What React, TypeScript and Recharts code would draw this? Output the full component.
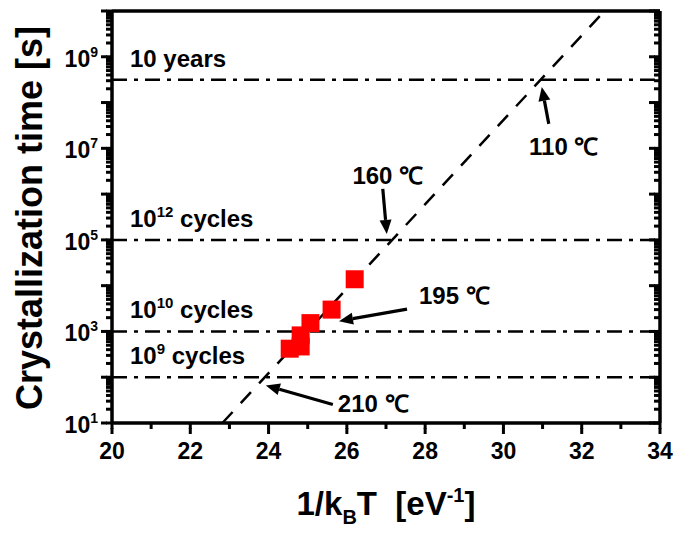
import React from "react";
import {
  ComposedChart,
  Scatter,
  XAxis,
  YAxis,
  ReferenceLine,
  ReferenceDot,
} from "recharts";

// measured points: 1/kT [eV^-1] vs crystallization time [s]
const invKT = [24.54, 24.82, 24.82, 25.07, 25.61, 26.2];
const crystTime = [420, 470, 820, 1520, 3000, 13800];

// Arrhenius extrapolation (dashed)
const fitInvKT = [22.82, 32.58];
const fitTime = [10, 1e10];

// horizontal limits
const limitTimes = [3.15e8, 1e5, 1e3, 1e2];
const limitSup = ["", "12", "10", "9"];
const limitText = [" years", " cycles", " cycles", " cycles"];

// temperature call-outs (arrow tip in data units)
const tempLabels = ["110 ℃", "160 ℃", "195 ℃", "210 ℃"];
const tempTipX = [30.98, 27.02, 25.8, 23.93];
const tempTipY = [2.2e8, 1.35e5, 1680, 66];

const xTicks = [20, 21, 22, 23, 24, 25, 26, 27, 28, 29, 30, 31, 32, 33, 34];
const xLabelled = [20, 22, 24, 26, 28, 30, 32, 34];
const yDecades = [1, 2, 3, 4, 5, 6, 7, 8, 9];
const yLabelled = [1, 3, 5, 7, 9];
const yMantissa = [1, 2, 3, 4, 5, 6, 7, 8, 9];

const yTicks = [
  ...yDecades.flatMap((d) => yMantissa.map((m) => m * Math.pow(10, d))),
  1e10,
];

const data = invKT.map((x, i) => ({ x, t: crystTime[i] }));

const FONT = "Arial, 'Liberation Sans', Helvetica, sans-serif";
const MINOR = 6;
const MAJOR = 11;

// pixel offsets for the call-outs relative to the arrow tip
const calloutLayout = [
  { tail: [7, 37], text: [22, 68], anchor: "middle" },
  { tail: [-4, -45], text: [1, -50], anchor: "middle" },
  { tail: [68, -12], text: [80, -17], anchor: "start" },
  { tail: [67, 19], text: [72, 27], anchor: "start" },
];

const isDecade = (v: number) => {
  const l = Math.log10(v);
  return Math.abs(l - Math.round(l)) < 1e-6;
};

const tickLineStyle = { stroke: "#000", strokeWidth: 3 };
const axisLineStyle = { stroke: "#000", strokeWidth: 3.5 };

// x,y handed to the tick renderers = outer end of the (minor length) tick line
const BottomTick = (props: any) => {
  const { x, y, payload } = props;
  const v = payload.value;
  const major = xLabelled.includes(v);
  if (!major) return <g />;
  return (
    <g>
      <path d={`M${x},${y - 1}V${y + MAJOR - MINOR}`} stroke="#000" strokeWidth={3} />
      <text x={x} y={y + 30} textAnchor="middle" fontFamily={FONT} fontWeight="bold" fontSize={23} fill="#000">
        {v}
      </text>
    </g>
  );
};

const TopTick = (props: any) => {
  const { x, y, payload } = props;
  const major = xLabelled.includes(payload.value);
  return major ? <path d={`M${x},${y - 1}V${y + MAJOR - MINOR}`} stroke="#000" strokeWidth={3} /> : <g />;
};

const LeftTick = (props: any) => {
  const { x, y, payload } = props;
  const v = payload.value;
  const dec = isDecade(v);
  const e = Math.round(Math.log10(v));
  const labelled = dec && yLabelled.includes(e);
  return (
    <g>
      {dec && <path d={`M${x + 1},${y}H${x - (MAJOR - MINOR)}`} stroke="#000" strokeWidth={3} />}
      {labelled && (
        <text x={x - 8} y={y + 10} textAnchor="end" fontFamily={FONT} fontWeight="bold" fontSize={23} fill="#000">
          <tspan>10</tspan>
          <tspan dy={-10} fontSize={14}>{e}</tspan>
        </text>
      )}
    </g>
  );
};

const RightTick = (props: any) => {
  const { x, y, payload } = props;
  const dec = isDecade(payload.value);
  return dec ? <path d={`M${x + 1},${y}H${x - (MAJOR - MINOR)}`} stroke="#000" strokeWidth={3} /> : <g />;
};

const LimitLabel = ({ viewBox, i }: any) => {
  if (!viewBox) return null;
  return (
    <text x={viewBox.x + 18} y={viewBox.y - 13} fontFamily={FONT} fontWeight="bold" fontSize={24} fill="#000">
      <tspan>10</tspan>
      {limitSup[i] && (
        <tspan dy={-10} fontSize={15}>
          {limitSup[i]}
        </tspan>
      )}
      <tspan dy={limitSup[i] ? 10 : 0} fontSize={24}>
        {limitText[i]}
      </tspan>
    </text>
  );
};

const Callout = ({ cx, cy, i }: any) => {
  if (cx == null || cy == null) return null;
  const lay = calloutLayout[i];
  const tx = cx + lay.tail[0];
  const ty = cy + lay.tail[1];
  const dx = cx - tx;
  const dy = cy - ty;
  const len = Math.sqrt(dx * dx + dy * dy);
  const ux = dx / len;
  const uy = dy / len;
  const head = 14;
  const half = 6;
  const bx = cx - ux * head;
  const by = cy - uy * head;
  return (
    <g>
      <line x1={tx} y1={ty} x2={bx} y2={by} stroke="#000" strokeWidth={3.2} />
      <polygon
        points={`${cx},${cy} ${bx - uy * half},${by + ux * half} ${bx + uy * half},${by - ux * half}`}
        fill="#000"
      />
      <text
        x={cx + lay.text[0]}
        y={cy + lay.text[1]}
        textAnchor={lay.anchor as any}
        fontFamily={FONT}
        fontWeight="bold"
        fontSize={24}
        fill="#000"
      >
        {tempLabels[i]}
      </text>
    </g>
  );
};

const XTitle = ({ viewBox }: any) => {
  if (!viewBox) return null;
  const cx = viewBox.x + viewBox.width / 2;
  return (
    <text x={cx} y={viewBox.y + 92} textAnchor="middle" fontFamily={FONT} fontWeight="bold" fontSize={33} fill="#000">
      <tspan>1/k</tspan>
      <tspan dy={9} fontSize={20}>B</tspan>
      <tspan dy={-9} fontSize={33}>{"T\u00a0\u00a0[eV"}</tspan>
      <tspan dy={-13} fontSize={20}>-1</tspan>
      <tspan dy={13} fontSize={33}>]</tspan>
    </text>
  );
};

const YTitle = ({ viewBox }: any) => {
  if (!viewBox) return null;
  const cy = viewBox.y + viewBox.height / 2 + 1;
  const x = 42;
  return (
    <text
      x={x}
      y={cy}
      transform={`rotate(-90 ${x} ${cy})`}
      textAnchor="middle"
      fontFamily={FONT}
      fontWeight="bold"
      fontSize={36}
      fill="#000"
    >
      Crystallization time [s]
    </text>
  );
};

const Square = (props: any) => {
  const { cx, cy } = props;
  if (cx == null || cy == null) return null;
  return <rect x={cx - 9} y={cy - 9} width={18} height={18} fill="#ff0000" />;
};

export default function App() {
  return (
    <div style={{ position: "absolute", left: 0, top: 0, width: 675, height: 533, background: "#fff" }}>
      <ComposedChart
        width={675}
        height={533}
        data={data}
        margin={{ top: 11, right: 15, bottom: 0, left: 0 }}
      >
        <XAxis
          xAxisId="b"
          dataKey="x"
          type="number"
          domain={[20, 34]}
          ticks={xTicks}
          interval={0}
          height={110}
          tickSize={MINOR}
          tickMargin={0}
          tickLine={tickLineStyle}
          tick={<BottomTick />}
          axisLine={axisLineStyle}
          allowDataOverflow
          label={(p: any) => <XTitle viewBox={p.viewBox} />}
        />
        <XAxis
          xAxisId="t"
          orientation="top"
          mirror
          type="number"
          domain={[20, 34]}
          ticks={xTicks}
          interval={0}
          height={1}
          tickSize={MINOR}
          tickMargin={0}
          tickLine={tickLineStyle}
          tick={<TopTick />}
          axisLine={axisLineStyle}
          allowDataOverflow
        />
        <YAxis
          yAxisId="l"
          dataKey="t"
          type="number"
          scale="log"
          domain={[10, 1e10]}
          ticks={yTicks}
          interval={0}
          width={112}
          tickSize={MINOR}
          tickMargin={0}
          tickLine={tickLineStyle}
          tick={<LeftTick />}
          axisLine={axisLineStyle}
          allowDataOverflow
          label={(p: any) => <YTitle viewBox={p.viewBox} />}
        />
        <YAxis
          yAxisId="r"
          orientation="right"
          mirror
          type="number"
          scale="log"
          domain={[10, 1e10]}
          ticks={yTicks}
          interval={0}
          width={1}
          tickSize={MINOR}
          tickMargin={0}
          tickLine={tickLineStyle}
          tick={<RightTick />}
          axisLine={axisLineStyle}
          allowDataOverflow
        />
        <Scatter
          xAxisId="b"
          yAxisId="l"
          dataKey="t"
          shape={<Square />}
          isAnimationActive={false}
        />
        {limitTimes.map((t, i) => (
          <ReferenceLine
            key={`lim-${i}`}
            xAxisId="b"
            yAxisId="l"
            y={t}
            stroke="#000"
            strokeWidth={2.5}
            strokeDasharray="15 7 4 7"
            label={(p: any) => <LimitLabel viewBox={p.viewBox} i={i} />}
          />
        ))}
        <ReferenceLine
          xAxisId="b"
          yAxisId="l"
          segment={[
            { x: fitInvKT[0], y: fitTime[0] },
            { x: fitInvKT[1], y: fitTime[1] },
          ]}
          stroke="#000"
          strokeWidth={2.5}
          strokeDasharray="15 12"
        />
        {tempLabels.map((_, i) => (
          <ReferenceDot
            key={`tmp-${i}`}
            xAxisId="b"
            yAxisId="l"
            x={tempTipX[i]}
            y={tempTipY[i]}
            r={0}
            shape={(p: any) => <Callout cx={p.cx} cy={p.cy} i={i} />}
          />
        ))}
      </ComposedChart>
    </div>
  );
}
